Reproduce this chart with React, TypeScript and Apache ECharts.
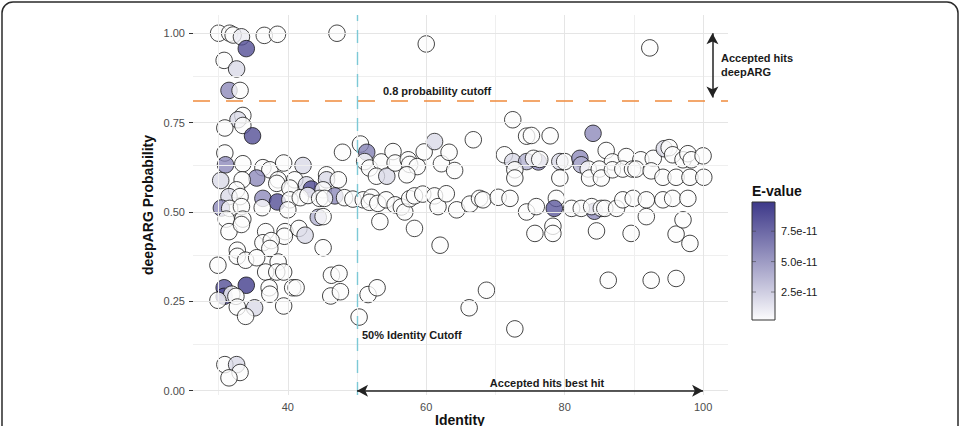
import React, { useEffect, useRef } from "react";
import * as echarts from "echarts";

// E-value levels
const EW = 2e-12; // white
const EL = 2e-11; // light grey
const ELP = 4e-11; // light purple
const EM = 6e-11; // medium purple
const ED = 9e-11; // dark purple
const EDD = 9.9e-11; // darkest

// [identity, deepARG probability, E-value] — identity below 50 %
const hitsLowIdentity: number[][] = [
  [30.0, 1.0, EW], [31.6, 1.0, EW], [32.1, 0.995, EW], [33.3, 0.99, 1e-11], [34.0, 0.957, ED],
  [36.6, 0.994, EW], [38.5, 0.997, EW], [47.1, 1.0, EW],
  [30.8, 0.924, EW], [32.6, 0.9, EL], [31.5, 0.84, EM], [33.1, 0.84, EW],
  [33.5, 0.77, EW], [32.8, 0.758, EL], [33.5, 0.742, EW], [30.9, 0.735, EW], [34.9, 0.713, ED],
  [47.9, 0.667, EW],
  [30.9, 0.665, EW], [31.0, 0.632, EM], [33.5, 0.635, EW], [36.4, 0.624, EW], [37.4, 0.618, EW],
  [39.4, 0.637, EW], [42.2, 0.63, EL],
  [30.3, 0.588, EL], [35.5, 0.595, EM], [33.4, 0.59, EW], [38.6, 0.59, EW], [41.0, 0.59, EW],
  [42.7, 0.576, EL], [43.4, 0.564, ED], [45.6, 0.604, EW], [45.6, 0.59, EL], [47.3, 0.59, EW],
  [32.6, 0.562, EW], [38.4, 0.58, EW], [40.3, 0.567, EW], [45.1, 0.562, EW], [46.8, 0.545, EM],
  [31.5, 0.543, EL], [33.1, 0.543, EW], [36.4, 0.538, EM], [38.5, 0.528, ED], [40.3, 0.534, EW],
  [41.8, 0.54, EW], [42.9, 0.546, EW], [44.6, 0.538, EW], [45.3, 0.538, EW], [48.2, 0.54, EW],
  [49.4, 0.536, EW],
  [30.4, 0.511, EM], [31.6, 0.51, EW], [33.3, 0.515, EW], [36.3, 0.512, EW], [40.0, 0.506, EW],
  [44.4, 0.485, ELP], [45.1, 0.487, EW],
  [31.1, 0.48, EW], [33.5, 0.48, EW], [31.5, 0.445, EW], [33.3, 0.465, EW], [36.8, 0.445, EW],
  [39.6, 0.445, EW], [39.5, 0.432, EW], [41.6, 0.454, EW], [42.5, 0.435, EL],
  [36.4, 0.414, EW], [37.6, 0.42, EW], [37.4, 0.398, EW], [45.1, 0.4, EW], [32.7, 0.393, EW],
  [32.7, 0.376, EW], [33.9, 0.365, EW], [35.5, 0.372, EW], [29.9, 0.351, EW], [38.6, 0.36, EW],
  [36.8, 0.332, EW], [38.4, 0.332, EW], [39.4, 0.332, EW], [46.3, 0.323, EW], [47.4, 0.328, EW],
  [30.8, 0.288, ED], [34.0, 0.295, EDD], [37.3, 0.288, EW], [40.7, 0.288, EW], [41.2, 0.288, EW],
  [30.8, 0.264, ED], [31.9, 0.27, EW], [32.5, 0.264, EW], [37.4, 0.27, EW], [29.9, 0.253, EW],
  [32.7, 0.234, EW], [35.2, 0.232, EL], [33.9, 0.208, EW], [39.4, 0.237, EW], [46.2, 0.265, EW],
  [47.6, 0.277, EW],
  [30.9, 0.073, EW], [32.6, 0.073, EL], [33.1, 0.051, EW], [31.5, 0.036, EW],
];

// [identity, deepARG probability, E-value] — identity 50 % and above
const hitsHighIdentity: number[][] = [
  [76.2, 0.64, EM], [84.3, 0.502, EM],
  [50.5, 0.69, EW], [51.4, 0.667, 6.5e-11], [51.1, 0.641, EW], [51.8, 0.623, EW], [53.5, 0.64, EW],
  [52.8, 0.6, EW], [54.3, 0.6, EL], [55.2, 0.669, EW], [55.5, 0.637, EW], [57.4, 0.646, EW],
  [57.6, 0.633, EW], [58.7, 0.627, EW], [59.7, 0.668, EW], [57.2, 0.604, EW], [61.2, 0.697, EL],
  [62.2, 0.635, EW], [63.3, 0.667, EW], [64.1, 0.616, EW], [66.8, 0.702, EW],
  [60.0, 0.97, EW], [92.3, 0.959, EW],
  [72.5, 0.758, EW], [74.5, 0.712, EW], [75.2, 0.714, EW], [77.9, 0.713, EW], [84.1, 0.72, EM],
  [71.3, 0.66, EW], [72.5, 0.641, EL], [74.5, 0.641, ELP], [75.5, 0.65, EW], [76.4, 0.647, EW],
  [79.3, 0.641, EL], [80.0, 0.641, EW], [82.2, 0.65, EM], [82.4, 0.632, ELP], [86.0, 0.672, EW],
  [86.9, 0.64, EW], [88.9, 0.655, EW], [91.0, 0.646, EW], [92.8, 0.65, EW], [94.4, 0.677, EL],
  [95.1, 0.68, EW], [95.6, 0.66, EW], [97.1, 0.646, EW], [97.8, 0.663, EW], [98.3, 0.646, EW],
  [100.0, 0.657, EW],
  [72.8, 0.618, EW], [72.8, 0.595, EW], [79.3, 0.595, EW], [83.4, 0.62, EW], [83.6, 0.595, EW],
  [85.0, 0.62, EW], [85.3, 0.595, EW], [86.9, 0.618, EW], [88.4, 0.62, EW], [89.8, 0.62, EW],
  [90.3, 0.62, EW], [92.5, 0.615, EW], [94.2, 0.597, EW], [96.1, 0.597, EW], [98.1, 0.597, EW],
  [100.1, 0.597, EW],
  [50.9, 0.534, EW], [52.1, 0.541, EW], [51.8, 0.527, EW], [53.0, 0.524, EW], [54.2, 0.534, EW],
  [55.5, 0.52, EW], [56.4, 0.514, EW], [56.9, 0.5, EW], [57.6, 0.537, EW], [58.3, 0.545, EW],
  [59.5, 0.55, EW], [61.2, 0.545, EW], [61.7, 0.515, EW], [62.9, 0.551, EW], [64.4, 0.506, EW],
  [66.3, 0.522, EW], [67.7, 0.538, EW], [68.2, 0.534, EW], [70.4, 0.541, EW], [72.1, 0.538, EW],
  [74.5, 0.5, EW], [75.9, 0.515, EW], [78.8, 0.538, EW], [78.5, 0.51, 8.5e-11], [81.0, 0.51, EW],
  [82.4, 0.51, EW], [83.9, 0.515, EW], [85.3, 0.51, EW], [85.8, 0.51, EW], [87.5, 0.51, EW],
  [88.4, 0.534, EW], [89.9, 0.538, EW], [91.8, 0.534, EW], [94.2, 0.534, EW], [95.6, 0.538, EW],
  [97.8, 0.538, EW],
  [53.3, 0.473, EW], [58.3, 0.454, EW], [62.0, 0.407, EW], [75.7, 0.44, EW], [78.3, 0.46, EW],
  [78.3, 0.44, EW], [84.6, 0.447, EW], [89.6, 0.44, EW], [91.8, 0.487, EW], [96.1, 0.438, EW],
  [97.1, 0.478, EW], [98.1, 0.412, EW],
  [50.3, 0.206, EW], [51.6, 0.269, EW], [52.9, 0.288, EW], [66.2, 0.232, EW], [68.7, 0.281, EW],
  [72.8, 0.173, EW], [86.3, 0.309, EW], [92.5, 0.309, EW], [96.1, 0.314, EW],
];

const xTicks = [40, 60, 80, 100];
const xMinorTicks = [30, 50, 70, 90];
const yTicks = [0, 0.25, 0.5, 0.75, 1.0];
const yMinorTicks = [0.125, 0.375, 0.625, 0.875];
const eValueTicks = [2.5e-11, 5.0e-11, 7.5e-11];
const eValueTickLabels = ["2.5e-11", "5.0e-11", "7.5e-11"];
const eValueRange = [0.2e-11, 9.9e-11];

const probabilityCutoff = 0.815;
const identityCutoff = 50;

const FONT = "'Liberation Sans', Arial, Helvetica, sans-serif";
const LOW_COLOR = "#fcfcfd";
const HIGH_COLOR = "#3d3889";

export default function App() {
  const ref = useRef<HTMLDivElement>(null);

  useEffect(() => {
    if (!ref.current) return;
    const chart = echarts.init(ref.current, null, { renderer: "svg" });

    const gridLines = [
      ...xMinorTicks.map((v) => ({ xAxis: v, lineStyle: { color: "#efefef", width: 1, type: "solid" } })),
      ...yMinorTicks.map((v) => ({ yAxis: v, lineStyle: { color: "#efefef", width: 1, type: "solid" } })),
      ...xTicks.map((v) => ({ xAxis: v, lineStyle: { color: "#e5e5e5", width: 1, type: "solid" } })),
      ...yTicks.map((v) => ({ yAxis: v, lineStyle: { color: "#e5e5e5", width: 1, type: "solid" } })),
    ];

    // colour bar geometry (legend)
    const cbX = 752, cbY = 202, cbW = 23, cbH = 118;
    const cbPos = (v: number) => cbY + cbH - ((v - eValueRange[0]) / (eValueRange[1] - eValueRange[0])) * cbH;

    const cbElems: any[] = [];
    eValueTicks.forEach((v, i) => {
      const y = cbPos(v);
      cbElems.push({
        type: "line", shape: { x1: cbX, y1: y, x2: cbX + 4, y2: y },
        style: { stroke: "rgba(60,60,60,0.55)", lineWidth: 1 }, silent: true, z: 101,
      });
      cbElems.push({
        type: "line", shape: { x1: cbX + cbW - 4, y1: y, x2: cbX + cbW, y2: y },
        style: { stroke: "rgba(60,60,60,0.55)", lineWidth: 1 }, silent: true, z: 101,
      });
      cbElems.push({
        type: "text", x: cbX + cbW + 6, y, silent: true, z: 101,
        style: { text: eValueTickLabels[i], fill: "#1a1a1a", font: `11px ${FONT}`, textAlign: "left", textVerticalAlign: "middle" },
      });
    });

    const annText = (text: string, x: number, y: number, align = "left") => ({
      type: "text", x, y, silent: true, z: 101,
      style: { text, fill: "#1a1a1a", font: `bold 11px ${FONT}`, textAlign: align, textVerticalAlign: "middle" },
    });

    chart.setOption({
      animation: false,
      backgroundColor: "#ffffff",
      grid: { left: 193, right: 235, top: 15, bottom: 31, containLabel: false },
      xAxis: {
        type: "value", min: 26.3, max: 103.6,
        axisLine: { show: false }, splitLine: { show: false },
        axisTick: { show: true, customValues: xTicks, length: 4, lineStyle: { color: "#333", width: 1 } },
        axisLabel: { customValues: xTicks, margin: 6, color: "#4d4d4d", fontSize: 11, fontFamily: FONT },
      },
      yAxis: {
        type: "value", min: -0.012, max: 1.051,
        axisLine: { show: false }, splitLine: { show: false },
        axisTick: { show: true, customValues: yTicks, length: 4, lineStyle: { color: "#333", width: 1 } },
        axisLabel: {
          customValues: yTicks, margin: 8, color: "#4d4d4d", fontSize: 11, fontFamily: FONT,
          formatter: (v: number) => v.toFixed(2),
        },
      },
      visualMap: {
        type: "continuous", show: false, dimension: 2, seriesIndex: 2,
        min: eValueRange[0], max: eValueRange[1],
        inRange: { color: [LOW_COLOR, HIGH_COLOR] },
      },
      series: [
        {
          type: "scatter", data: [], z: 1, silent: true,
          markLine: { silent: true, symbol: ["none", "none"], label: { show: false }, data: gridLines, animation: false },
        },
        {
          type: "scatter", data: [], z: 2, silent: true,
          markLine: {
            silent: true, symbol: ["none", "none"], label: { show: false }, animation: false,
            data: [
              { yAxis: probabilityCutoff, lineStyle: { color: "#ef8a3d", width: 1.6, type: [17, 16] } },
              { xAxis: identityCutoff, lineStyle: { color: "#7cc9d6", width: 1.4, type: [13, 9] } },
            ],
          },
        },
        {
          type: "scatter", z: 3, clip: false,
          data: [...hitsLowIdentity, ...hitsHighIdentity],
          symbolSize: 16.5,
          itemStyle: { borderColor: "#111", borderWidth: 1, opacity: 0.78 },
        },
        {
          type: "scatter", data: [], z: 4, silent: true,
          markLine: {
            silent: true, symbol: ["arrow", "arrow"], symbolSize: [9, 11], label: { show: false }, animation: false,
            lineStyle: { color: "#222", width: 1.5, type: "solid" },
            itemStyle: { color: "#222" },
            data: [
              [{ coord: [identityCutoff, 0] }, { coord: [100, 0] }],
              [{ coord: [101.35, 1.0] }, { coord: [101.35, 0.82] }],
            ],
          },
        },
      ],
      graphic: [
        {
          type: "rect", shape: { x: 2, y: 2, width: 956, height: 470, r: 11 },
          style: { fill: "none", stroke: "#2a2a2a", lineWidth: 1.5 }, silent: true, z: 100,
        },
        {
          type: "text", x: 148, y: 205, rotation: Math.PI / 2, silent: true, z: 101,
          style: { text: "deepARG Probability", fill: "#111", font: `bold 14px ${FONT}`, textAlign: "center", textVerticalAlign: "middle" },
        },
        {
          type: "text", x: 460, y: 413, silent: true, z: 101,
          style: { text: "Identity", fill: "#111", font: `bold 14px ${FONT}`, textAlign: "center", textVerticalAlign: "top" },
        },
        {
          type: "text", x: cbX, y: 191, silent: true, z: 101,
          style: { text: "E-value", fill: "#111", font: `bold 14px ${FONT}`, textAlign: "left", textVerticalAlign: "middle" },
        },
        {
          type: "rect", shape: { x: cbX, y: cbY, width: cbW, height: cbH }, silent: true, z: 100,
          style: {
            fill: new echarts.graphic.LinearGradient(0, 0, 0, 1, [
              { offset: 0, color: HIGH_COLOR },
              { offset: 1, color: LOW_COLOR },
            ]),
            stroke: "#333", lineWidth: 1,
          },
        },
        ...cbElems,
        annText("0.8 probability cutoff", 383, 91),
        annText("Accepted hits", 721, 58),
        annText("deepARG", 721, 72),
        annText("50% Identity Cutoff", 362, 335),
        annText("Accepted hits best hit", 547, 383, "center"),
      ],
    });

    return () => chart.dispose();
  }, []);

  return <div ref={ref} style={{ position: "fixed", left: 0, top: 0, width: 963, height: 426 }} />;
}
